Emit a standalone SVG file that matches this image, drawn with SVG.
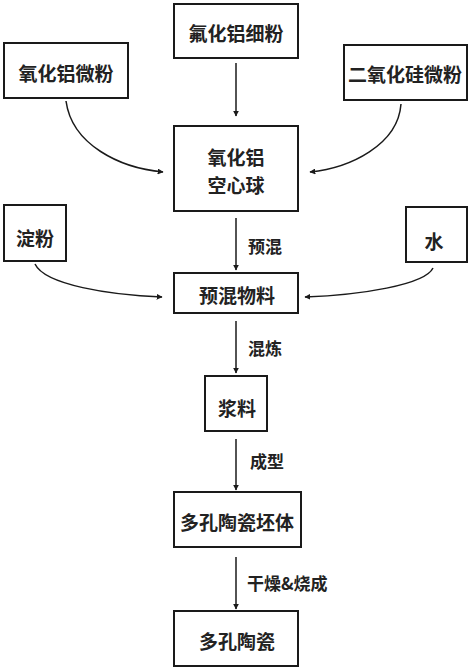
<svg xmlns="http://www.w3.org/2000/svg" width="474" height="669" viewBox="0 0 474 669">
<style>
.box{fill:#fff;stroke:#1a1a1a;stroke-width:2}
.t{font-family:"Noto Sans CJK SC","Liberation Sans",sans-serif;font-size:19px;font-weight:bold;fill:#222;text-anchor:middle;dominant-baseline:central}
.l{font-family:"Noto Sans CJK SC","Liberation Sans",sans-serif;font-size:17px;font-weight:bold;fill:#222;dominant-baseline:central}
.c{fill:none;stroke:#1a1a1a;stroke-width:1.5;marker-end:url(#ah)}
</style>
<defs>
<marker id="ah" viewBox="0 0 10 10" refX="9" refY="5" markerWidth="6" markerHeight="6" markerUnits="userSpaceOnUse" orient="auto">
<path d="M0,0 L10,5 L0,10 z" fill="#1a1a1a"/>
</marker>
</defs>
<rect width="474" height="669" fill="#fff"/>
<g id="n1"><rect class="box" x="174" y="4" width="124" height="54"/><text class="t" x="236" y="32">氟化铝细粉</text></g>
<g id="n2"><rect class="box" x="4" y="43" width="124" height="55"/><text class="t" x="66" y="72">氧化铝微粉</text></g>
<g id="n3"><rect class="box" x="344" y="45" width="123" height="55"/><text class="t" x="405" y="73">二氧化硅微粉</text></g>
<g id="n4"><rect class="box" x="174" y="126" width="124" height="85"/><text class="t" x="236" y="156">氧化铝</text><text class="t" x="236" y="184">空心球</text></g>
<g id="n5"><rect class="box" x="4" y="205" width="62" height="56"/><text class="t" x="35" y="237">淀粉</text></g>
<g id="n6"><rect class="box" x="406" y="207" width="61" height="55"/><text class="t" x="434" y="240">水</text></g>
<g id="n7"><rect class="box" x="174" y="273" width="124" height="40"/><text class="t" x="237" y="294">预混物料</text></g>
<g id="n8"><rect class="box" x="205" y="376" width="62" height="55"/><text class="t" x="237" y="407">浆料</text></g>
<g id="n9"><rect class="box" x="174" y="492" width="127" height="55"/><text class="t" x="237" y="521">多孔陶瓷坯体</text></g>
<g id="n10"><rect class="box" x="174" y="611" width="124" height="55"/><text class="t" x="237" y="640">多孔陶瓷</text></g>
<g id="connectors">
<path class="c" d="M236,63 L236,116"/>
<path class="c" d="M66,101 C72,145 120,168 163,172"/>
<path class="c" d="M401,104 C398,145 350,168 310,172"/>
<path class="c" d="M236,218 L236,270"/>
<path class="c" d="M35,264 C45,285 110,295 162,297"/>
<path class="c" d="M433,268 C425,285 360,295 305,297"/>
<path class="c" d="M236,321 L236,373"/>
<path class="c" d="M236,439 L236,490"/>
<path class="c" d="M236,557 L236,609"/>
<text class="l" x="248" y="245">预混</text>
<text class="l" x="248" y="347">混炼</text>
<text class="l" x="250" y="460">成型</text>
<text class="l" x="247" y="582">干燥&amp;烧成</text>
</g>
</svg>
